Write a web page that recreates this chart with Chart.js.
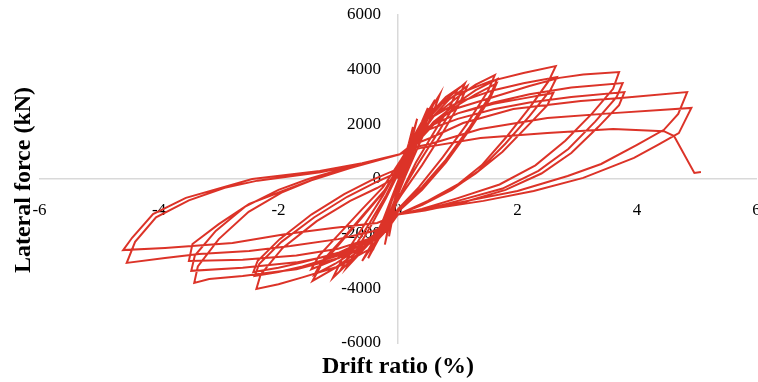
<!DOCTYPE html>
<html>
<head>
<meta charset="utf-8">
<script src="https://cdn.jsdelivr.net/npm/chart.js@4.4.0/dist/chart.umd.min.js"></script>
<style>
  html, body { margin: 0; padding: 0; background: #fff; }
</style>
</head>
<body>
<canvas id="graficoHisteresis" width="758" height="382"></canvas>
<script>
// drift ratio (%) along the loading path, one line per cycle
const drift = [
  0, 0.1, 0.18, 0.25, 0.18, 0.05, -0.05, -0.1, -0.15, -0.08, 0.02, 0.1,
  0.2, 0.32, 0.24, 0.1, -0.05, -0.15, -0.22, -0.14, 0, 0.12,
  0.25, 0.4, 0.5, 0.4, 0.2, 0.03, -0.15, -0.3, -0.42, -0.32, -0.15, 0.02, 0.15,
  0.3, 0.48, 0.62, 0.52, 0.3, 0.08, -0.12, -0.3, -0.5, -0.38, -0.2, 0, 0.15,
  0.3, 0.5, 0.7, 0.6, 0.38, 0.12, -0.1, -0.35, -0.6, -0.47, -0.25, -0.02, 0.15,
  0.3, 0.55, 0.8, 1.0, 0.88, 0.6, 0.3, 0.05, -0.2, -0.5, -0.86, -0.72, -0.45, -0.2, 0.05,
  0.25, 0.5, 0.8, 1.12, 1.0, 0.7, 0.35, 0.05, -0.25, -0.6, -0.97, -0.82, -0.5, -0.2, 0.05,
  0.3, 0.55, 0.85, 1.16, 1.04, 0.75, 0.4, 0.05, -0.3, -0.7, -1.09, -0.93, -0.6, -0.25, 0.05,
  0.3, 0.6, 1.0, 1.3, 1.62, 1.5, 1.15, 0.75, 0.35, 0, -0.3, -0.7, -1.05, -1.43, -1.3, -0.95, -0.6, -0.25, 0.05,
  0.3, 0.6, 1.0, 1.3, 1.66, 1.54, 1.2, 0.8, 0.4, 0, -0.3, -0.7, -1.05, -1.4, -1.27, -0.93, -0.58, -0.22, 0.05,
  0.3, 0.6, 1.0, 1.3, 1.65, 1.53, 1.2, 0.8, 0.4, 0, -0.3, -0.7, -1.05, -1.45, -1.32, -0.98, -0.6, -0.25, 0.05,
  0.25, 0.54, 0.99, 1.55, 2.1, 2.64, 2.52, 2.2, 1.8, 1.4, 1.0, 0.5, 0, -0.2, -0.5, -1.0, -1.6, -2.0, -2.37, -2.3, -1.93, -1.36, -0.8, -0.35, 0,
  0.3, 0.6, 1.0, 1.6, 2.1, 2.66, 2.55, 2.2, 1.8, 1.35, 0.9, 0.45, 0, -0.2, -0.5, -1.0, -1.6, -2.0, -2.4, -2.32, -1.95, -1.4, -0.85, -0.4, 0,
  0.3, 0.6, 1.0, 1.6, 2.1, 2.6, 2.5, 2.15, 1.75, 1.3, 0.85, 0.4, 0, -0.2, -0.5, -1.0, -1.6, -2.0, -2.42, -2.35, -1.98, -1.45, -0.9, -0.45, 0.03,
  0.3, 0.6, 1.0, 1.6, 2.2, 2.7, 3.1, 3.7, 3.6, 3.25, 2.8, 2.3, 1.7, 1.0, 0.4, 0, -0.2, -0.5, -1.0, -1.7, -2.6, -3.16, -3.41, -3.35, -3.0, -2.5, -1.95, -1.45, -0.8, 0.03,
  0.2, 0.5, 1.0, 1.6, 2.2, 2.9, 3.76, 3.66, 3.3, 2.85, 2.35, 1.75, 1.0, 0.4, 0, -0.2, -0.5, -1.0, -1.7, -2.6, -3.46, -3.4, -3.05, -2.55, -2.0, -1.5, -0.8, 0.03,
  0.2, 0.5, 1.0, 1.6, 2.2, 2.9, 3.79, 3.7, 3.35, 2.9, 2.4, 1.8, 1.1, 0.45, 0, -0.2, -0.5, -1.0, -1.7, -2.6, -3.5, -3.44, -3.0, -2.49, -1.93, -1.48, -0.8, 0.03,
  0.25, 0.54, 1.09, 1.93, 3.06, 3.73, 4.84, 4.69, 4.45, 4.0, 3.4, 2.84, 2.0, 1.16, 0.5, 0, -0.15, -0.4, -1.0, -1.8, -2.49, -3.33, -3.9, -4.54, -4.4, -4.05, -3.5, -2.9, -2.35, -1.3, -0.6, 0.03,
  0.25, 0.54, 1.38, 2.5, 3.6, 4.91, 4.7, 4.35, 3.95, 3.1, 2.27, 1.43, 0.32, 0, -0.35, -1.09, -1.87, -2.77, -3.9, -4.6, -4.45, -4.1, -3.55, -2.44, -1.31, -0.6, 0.03,
  0.37, 1.38, 2.5, 3.6, 4.45, 4.62, 4.96, 5.07
];

// lateral force (kN), same order as drift
const force = [
  0, 700, 1300, 1900, 1200, 200, -700, -1400, -2100, -1300, -300, 500,
  1300, 2200, 1500, 400, -700, -1600, -2400, -1600, -400, 500,
  1400, 2100, 2600, 1900, 800, -300, -1300, -2000, -2600, -2000, -1100, 0, 800,
  1700, 2400, 2900, 2300, 1200, 0, -1200, -2100, -2900, -2300, -1300, -100, 800,
  1600, 2400, 3100, 2500, 1400, 100, -1100, -2200, -3000, -2500, -1500, -200, 700,
  1500, 2400, 3000, 3300, 2700, 1700, 600, -500, -1500, -2400, -3250, -2700, -1700, -700, 400,
  1200, 2200, 2900, 3500, 2900, 1800, 600, -500, -1600, -2600, -3360, -2800, -1700, -600, 500,
  1300, 2200, 2900, 3400, 2800, 1700, 500, -600, -1800, -2800, -3620, -2900, -1800, -600, 600,
  1400, 2300, 3000, 3450, 3800, 3200, 2000, 800, -300, -1100, -2000, -2700, -3250, -3730, -3200, -2300, -1400, -500, 500,
  1300, 2100, 2800, 3250, 3650, 3050, 1900, 700, -300, -1100, -1900, -2600, -3100, -3500, -3000, -2200, -1300, -400, 600,
  1300, 2000, 2700, 3100, 3500, 2900, 1800, 600, -400, -1200, -1900, -2500, -2950, -3300, -2800, -2000, -1100, -300, 700,
  1400, 2490, 3100, 3580, 3880, 4130, 3580, 2600, 1500, 500, -200, -800, -1300, -1900, -2600, -3200, -3600, -3850, -4020, -3500, -2520, -1540, -800, -330, 110,
  1400, 2300, 2800, 3250, 3500, 3730, 3250, 2300, 1300, 300, -400, -900, -1300, -1800, -2300, -2800, -3200, -3400, -3550, -3100, -2300, -1400, -650, -150, 250,
  1300, 2000, 2400, 2750, 2950, 3150, 2700, 1900, 1000, 200, -450, -950, -1300, -1800, -2200, -2700, -3050, -3250, -3400, -3000, -2200, -1300, -550, -50, 400,
  1300, 2100, 2600, 3000, 3400, 3700, 3820, 3910, 3300, 2400, 1400, 500, -200, -700, -1100, -1300, -1900, -2400, -2900, -3300, -3550, -3660, -3800, -3200, -2200, -1200, -500, -50, 400, 900,
  1200, 1900, 2400, 2800, 3100, 3350, 3510, 3000, 2100, 1100, 300, -350, -800, -1150, -1300, -1850, -2300, -2750, -3050, -3250, -3360, -2800, -1900, -1000, -400, 0, 450, 900,
  1200, 1800, 2200, 2550, 2800, 3000, 3180, 2700, 1900, 950, 200, -400, -850, -1150, -1300, -1800, -2200, -2550, -2800, -2950, -3000, -2380, -1650, -910, -440, -70, 400, 900,
  1250, 1500, 2050, 2560, 2850, 2960, 3180, 2380, 1800, 1250, 550, 110, -440, -800, -1100, -1300, -1600, -1900, -2200, -2450, -2630, -2740, -2890, -3070, -2300, -1400, -780, -320, -60, 250, 560, 900,
  1150, 1280, 1830, 2230, 2410, 2600, 1680, 1250, 770, 40, -440, -800, -1170, -1300, -1610, -1790, -2010, -2340, -2520, -2600, -2150, -1280, -690, 0, 290, 580, 910,
  1130, 1500, 1680, 1830, 1750, 1570, 220, 260
];

const tituloX = "Drift ratio (%)";
const tituloY = "Lateral force (kN)";
const rangoX = [-6, 6];
const rangoY = [-6000, 6000];
const pasoX = 2;
const pasoY = 2000;

const fuenteSerif = '"Liberation Serif", "Times New Roman", serif';

if (drift.length !== force.length) {
    console.error("drift y force no tienen el mismo largo", drift.length, force.length);
}

// titulos de los ejes (los ejes van centrados en cero, asi que se dibujan aparte)
const titulosEjes = {
    id: "titulosEjes",
    afterDraw(chart) {
        const ctx = chart.ctx;
        const area = chart.chartArea;
        ctx.save();
        ctx.fillStyle = "#000";
        ctx.font = "bold 24px " + fuenteSerif;
        ctx.textAlign = "center";
        ctx.textBaseline = "middle";
        ctx.fillText(tituloX, chart.scales.x.getPixelForValue(0), area.bottom + 24);
        ctx.translate(24, (area.top + area.bottom) / 2 + 1);
        ctx.rotate(-Math.PI / 2);
        ctx.fillText(tituloY, 0, 0);
        ctx.restore();
    }
};

function sinPadding(scale) {
    scale.paddingLeft = 0;
    scale.paddingRight = 0;
    scale.paddingTop = 0;
    scale.paddingBottom = 0;
}

function graficoHisteresis() {
    const ctx = document.getElementById("graficoHisteresis").getContext("2d");
    const puntos = drift.map(function (d, i) {
        return { x: d, y: force[i] };
    });

    new Chart(ctx, {
        type: "scatter",
        data: {
            datasets: [{
                data: puntos,
                showLine: true,
                borderColor: "#dc3328",
                borderWidth: 2,
                pointRadius: 0,
                tension: 0,
                fill: false
            }]
        },
        options: {
            responsive: false,
            animation: false,
            layout: { padding: { left: 39.5, right: 1.5, top: 15, bottom: 39 } },
            plugins: {
                legend: { display: false },
                tooltip: { enabled: false }
            },
            scales: {
                x: {
                    type: "linear",
                    position: { y: 0 },
                    min: rangoX[0],
                    max: rangoX[1],
                    ticks: {
                        stepSize: pasoX,
                        padding: 21,
                        color: "#000",
                        maxRotation: 0,
                        font: { family: fuenteSerif, size: 17 },
                        callback: function (v) { return String(v); }
                    },
                    grid: { display: false, drawTicks: false },
                    border: { color: "#d9d9d9", width: 1.5 },
                    afterFit: sinPadding
                },
                y: {
                    type: "linear",
                    position: { x: 0 },
                    min: rangoY[0],
                    max: rangoY[1],
                    ticks: {
                        stepSize: pasoY,
                        color: "#000",
                        font: { family: fuenteSerif, size: 17 },
                        // el eje centrado no aplica padding, se separa con espacios
                        callback: function (v) { return String(v) + "    "; }
                    },
                    grid: { display: false, drawTicks: false },
                    border: { color: "#d9d9d9", width: 1.5 },
                    afterFit: sinPadding
                }
            }
        },
        plugins: [titulosEjes]
    });
}

graficoHisteresis();
</script>
</body>
</html>
